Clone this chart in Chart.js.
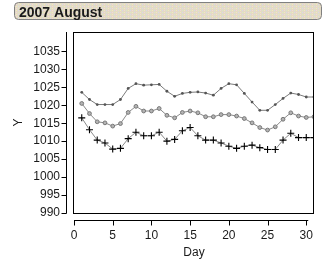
<!DOCTYPE html>
<html>
<head>
<meta charset="utf-8">
<script src="https://cdn.jsdelivr.net/npm/chart.js@4"></script>
<style>
  html, body { margin: 0; padding: 0; background: #fff; }
  #wrap { width: 331px; height: 261px; position: relative; }
</style>
</head>
<body>
<div id="wrap"><canvas id="chart" width="331" height="261"></canvas></div>
<script>
// data
var days = [1,2,3,4,5,6,7,8,9,10,11,12,13,14,15,16,17,18,19,20,21,22,23,24,25,26,27,28,29,30,31];
var highValues = [1023.6,1021.6,1020.2,1020.2,1020.2,1021.6,1024.7,1026.0,1025.6,1025.7,1025.8,1023.9,1022.5,1023.3,1023.6,
                  1023.7,1023.4,1022.8,1024.7,1026.0,1025.7,1023.3,1020.9,1018.6,1018.6,1020.2,1021.9,1023.4,1023.0,1022.3,1022.3];
var meanValues = [1020.5,1017.7,1015.4,1015.1,1014.2,1014.9,1018.0,1019.7,1018.4,1018.4,1019.1,1017.2,1016.5,1018.0,1018.4,
                  1017.9,1016.8,1016.8,1017.4,1017.4,1017.0,1016.3,1015.1,1013.8,1013.1,1014.0,1016.1,1017.9,1017.0,1016.6,1016.8];
var lowValues = [1016.5,1013.2,1010.3,1009.5,1007.8,1008.0,1010.7,1012.5,1011.5,1011.5,1012.5,1010.0,1010.5,1012.9,1013.8,
                 1011.5,1010.3,1010.3,1009.5,1008.6,1008.0,1008.6,1008.9,1008.2,1007.7,1007.7,1010.3,1012.2,1011.0,1011.0,1011.0];
var yTicks = [990,995,1000,1005,1010,1015,1020,1025,1030,1035];
var xTicks = [0,5,10,15,20,25,30];
var titleText = '2007 August';

function pts(vals) {
  return days.map(function(d, i) { return { x: d, y: vals[i] }; });
}

// title box, frame and the detached axis lines
var framePlugin = {
  id: 'frame',
  beforeDraw: function(chart) {
    var c = chart.ctx;
    c.save();
    // title box
    var x = 14.5, y = 2.5, w = 307, h = 17, r = 4;
    c.beginPath();
    c.moveTo(x + r, y);
    c.arcTo(x + w, y, x + w, y + h, r);
    c.arcTo(x + w, y + h, x, y + h, r);
    c.arcTo(x, y + h, x, y, r);
    c.arcTo(x, y, x + w, y, r);
    c.closePath();
    c.fillStyle = '#e3dac6';
    c.fill();
    // dotted texture
    var cols = ['#f4d7d7', '#d9e8c8', '#f2ecb8', '#d8d8ea'];
    for (var py = 4; py < 19; py += 2) {
      for (var px = 16; px < 320; px += 2) {
        c.fillStyle = cols[(px / 2 + py) % 4];
        c.fillRect(px, py, 1, 1);
      }
    }
    c.strokeStyle = '#808080';
    c.lineWidth = 1;
    c.stroke();
    c.fillStyle = '#1a1a1a';
    c.font = 'bold 14px "Liberation Sans", Arial, sans-serif';
    c.textBaseline = 'alphabetic';
    c.textAlign = 'left';
    c.fillText(titleText, 19, 17);
    c.restore();
  },
  afterDraw: function(chart) {
    var c = chart.ctx, a = chart.chartArea;
    var xs = chart.scales.x, ys = chart.scales.y;
    c.save();
    c.strokeStyle = '#000';
    c.lineWidth = 1;
    c.strokeRect(Math.round(a.left) - 0.5, Math.round(a.top) + 0.5, Math.round(a.right - a.left), Math.round(a.bottom - a.top));
    // y axis
    var ax = 66.5;
    c.beginPath();
    c.moveTo(ax, a.top);
    c.lineTo(ax, a.bottom + 0.5);
    ys.ticks.forEach(function(t) {
      var py = Math.round(ys.getPixelForValue(t.value)) + 0.5;
      c.moveTo(ax, py);
      c.lineTo(ax - 5, py);
    });
    // x axis
    var ay = 220.5;
    c.moveTo(xs.getPixelForValue(0), ay);
    c.lineTo(xs.getPixelForValue(30) + 2, ay);
    xs.ticks.forEach(function(t) {
      var px = Math.round(xs.getPixelForValue(t.value)) + 0.5;
      c.moveTo(px, ay);
      c.lineTo(px, ay + 5);
    });
    c.stroke();
    c.restore();
  }
};

var tickFont = { family: '"Liberation Sans", Arial, sans-serif', size: 12 };

new Chart(document.getElementById('chart'), {
  type: 'line',
  data: {
    datasets: [
      {
        label: 'High',
        data: pts(highValues),
        borderColor: '#7a7a7a',
        borderWidth: 1,
        pointStyle: 'circle',
        pointRadius: 1.4,
        pointBackgroundColor: '#555',
        pointBorderColor: '#555',
        pointBorderWidth: 0
      },
      {
        label: 'Mean',
        data: pts(meanValues),
        borderColor: '#8a8a8a',
        borderWidth: 1,
        pointStyle: 'circle',
        pointRadius: 1.9,
        pointBackgroundColor: '#b4b4b4',
        pointBorderColor: '#777',
        pointBorderWidth: 1
      },
      {
        label: 'Low',
        data: pts(lowValues),
        borderColor: '#8a8a8a',
        borderWidth: 1,
        pointStyle: 'cross',
        pointRadius: 3.5,
        pointBorderColor: '#000',
        pointBorderWidth: 1.1
      }
    ]
  },
  options: {
    responsive: false,
    animation: false,
    events: [],
    layout: { padding: { left: 0, right: 17, top: 32, bottom: 0 } },
    plugins: {
      legend: { display: false },
      title: { display: false },
      tooltip: { enabled: false }
    },
    scales: {
      x: {
        type: 'linear',
        min: 0,
        max: 31,
        afterBuildTicks: function(s) { s.ticks = xTicks.map(function(v) { return { value: v }; }); },
        afterFit: function(s) { s.height = 48; },
        grid: { display: false, drawTicks: false },
        border: { display: false },
        ticks: {
          padding: 15,
          maxRotation: 0,
          autoSkip: false,
          color: '#1a1a1a',
          font: tickFont,
          callback: function(v) { return String(v); }
        },
        title: {
          display: true,
          text: 'Day',
          color: '#1a1a1a',
          padding: { top: 0, bottom: 1 },
          font: tickFont
        }
      },
      y: {
        type: 'linear',
        min: 990,
        max: 1040.4,
        afterBuildTicks: function(s) { s.ticks = yTicks.map(function(v) { return { value: v }; }); },
        afterFit: function(s) { s.width = 74; },
        grid: { display: false, drawTicks: false },
        border: { display: false },
        ticks: {
          padding: 14,
          autoSkip: false,
          color: '#1a1a1a',
          font: tickFont,
          callback: function(v) { return String(v); }
        },
        title: {
          display: true,
          text: 'Y',
          color: '#1a1a1a',
          padding: { top: 11, bottom: 0 },
          font: tickFont
        }
      }
    }
  },
  plugins: [framePlugin]
});
</script>
</body>
</html>
